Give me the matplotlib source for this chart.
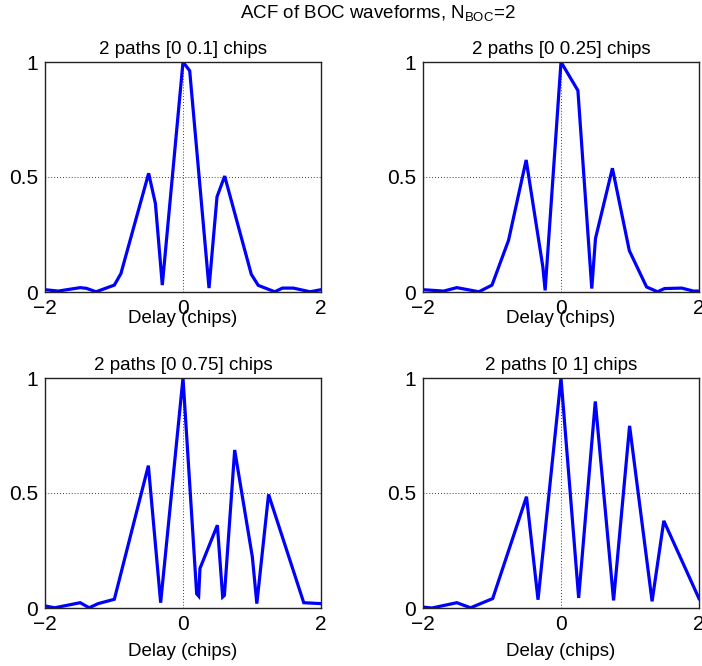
import matplotlib
matplotlib.use('Agg')
import matplotlib.pyplot as plt

plt.rcParams['font.family'] = ['Liberation Sans', 'DejaVu Sans']
plt.rcParams['mathtext.default'] = 'regular'

# delay (chips) / normalised ACF for each 2-path case
x_01 = [-2, -1.81, -1.49, -1.40, -1.26, -0.995, -0.90, -0.498, -0.40, -0.30, 0,
        0.097, 0.377, 0.493, 0.604, 0.99, 1.09, 1.33, 1.44, 1.60, 1.84, 2]
y_01 = [0.010, 0.004, 0.019, 0.016, 0.001, 0.030, 0.080, 0.516, 0.385, 0.030, 1.0,
        0.962, 0.017, 0.414, 0.504, 0.077, 0.029, 0.001, 0.017, 0.017, 0.001, 0.010]

x_025 = [-2, -1.70, -1.51, -1.19, -1.0, -0.76, -0.505, -0.263, -0.23, 0,
         0.245, 0.446, 0.50, 0.745, 0.99, 1.24, 1.40, 1.50, 1.75, 1.92, 2]
y_025 = [0.010, 0.004, 0.019, 0.001, 0.030, 0.225, 0.574, 0.109, 0.007, 1.0,
         0.876, 0.015, 0.233, 0.538, 0.180, 0.022, 0.001, 0.015, 0.017, 0.004, 0.004]

x_075 = [-2, -1.86, -1.49, -1.36, -1.23, -0.995, -0.502, -0.324, 0, 0.198, 0.227,
         0.246, 0.498, 0.575, 0.60, 0.749, 1.005, 1.07, 1.24, 1.75, 2]
y_075 = [0.009, 0.001, 0.023, 0.001, 0.019, 0.038, 0.619, 0.023, 1.0, 0.062, 0.052,
         0.172, 0.360, 0.048, 0.055, 0.687, 0.222, 0.019, 0.494, 0.023, 0.019]

x_1 = [-2, -1.87, -1.51, -1.31, -0.99, -0.50, -0.333, 0, 0.256, 0.497, 0.762,
       0.994, 1.32, 1.49, 2]
y_1 = [0.004, 0.0, 0.023, 0.001, 0.041, 0.484, 0.036, 1.0, 0.044, 0.898, 0.033,
       0.792, 0.029, 0.379, 0.041]

titles = ['2 paths [0 0.1] chips', '2 paths [0 0.25] chips',
          '2 paths [0 0.75] chips', '2 paths [0 1] chips']
series = [(x_01, y_01), (x_025, y_025), (x_075, y_075), (x_1, y_1)]

W, H = 702, 666
fig = plt.figure(figsize=(W / 100, H / 100), dpi=100)

# axes boxes in pixels: left, top, right, bottom
boxes = [(45, 62, 321, 292), (423, 62, 699, 292),
         (45, 378, 321, 608), (423, 378, 699, 608)]

for i, ((x, y), title, (l, t, r, b)) in enumerate(zip(series, titles, boxes)):
    ax = fig.add_axes([l / W, 1 - b / H, (r - l) / W, (b - t) / H])
    ax.plot(x, y, color='#0000ff', lw=2.3, solid_joinstyle='miter')
    ax.set_xlim(-2, 2)
    ax.set_ylim(0, 1)
    ax.set_xticks([-2, 0, 2])
    ax.set_yticks([0, 0.5, 1])
    ax.set_xticklabels(['\u22122', '0', '2'])
    ax.set_yticklabels(['0', '0.5', '1'])
    ax.grid(True, color='black', linestyle=(0, (1, 2.5)), lw=0.6)
    ax.tick_params(direction='in', length=0, labelsize=15, pad=5)
    for s in ax.spines.values():
        s.set_linewidth(1.0)
        s.set_color('#222222')
    ax.set_title(title, fontsize=13.5, pad=6)
    # top row label sits on top of the tick labels, as in the original
    if i < 2:
        ax.set_xlabel('Delay (chips)', fontsize=13.5, labelpad=-5.5)
    else:
        ax.set_xlabel('Delay (chips)', fontsize=13.5, labelpad=6.5)

fig.text(378 / W, 1 - 13 / H, 'ACF of BOC waveforms, N$_{BOC}$=2',
         ha='center', va='center', fontsize=13.5)

fig.savefig('out.png', dpi=100)
